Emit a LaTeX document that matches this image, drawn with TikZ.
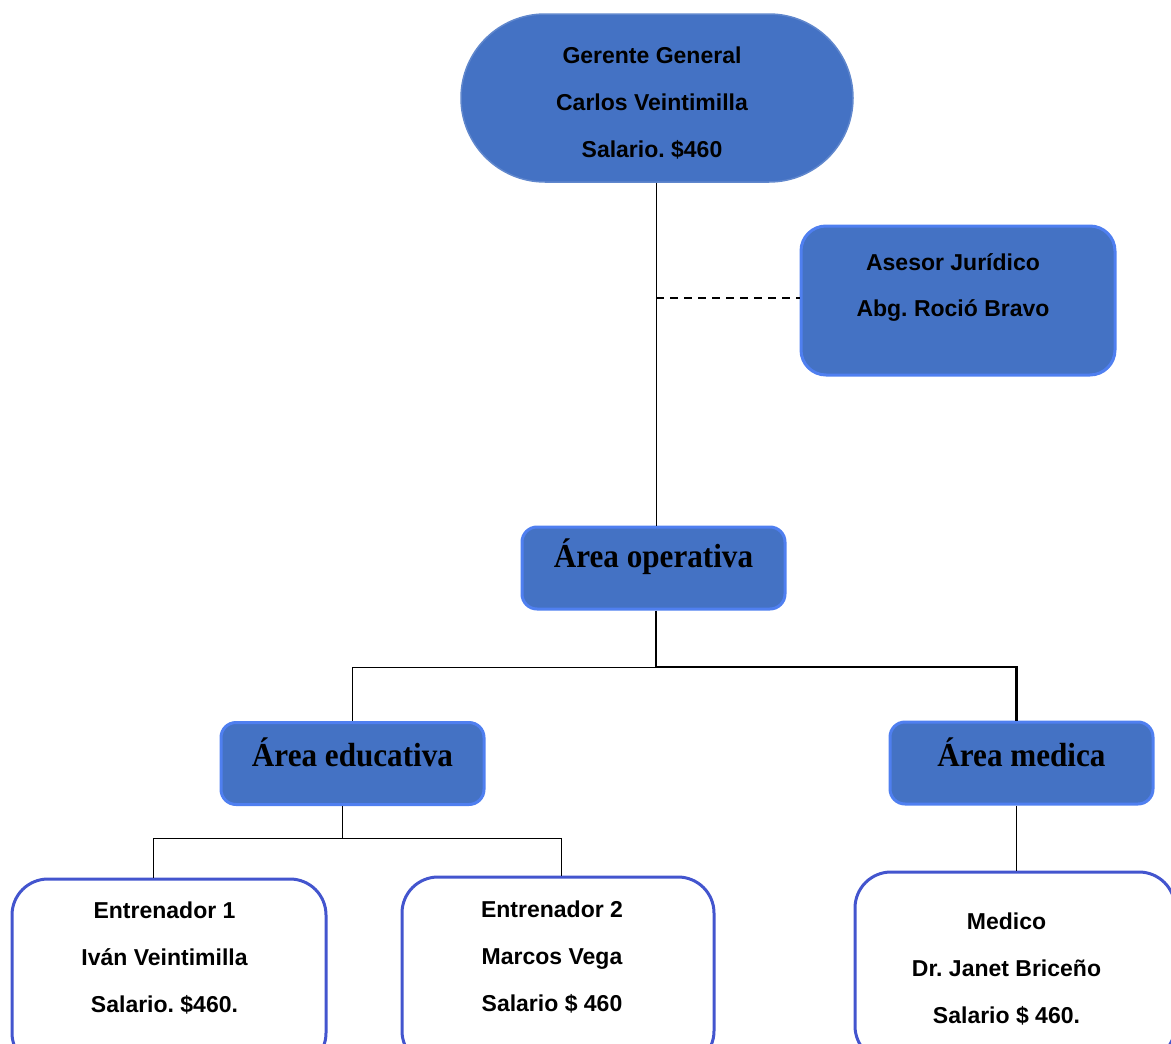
\documentclass[tikz,border=0pt]{standalone}
\usepackage{fontspec}
\setmainfont{Liberation Sans}
\newfontfamily\areafont[FakeStretch=0.93]{Liberation Serif}
\usepackage{tikz}
\frenchspacing
\definecolor{boxblue}{HTML}{4472C4}
\definecolor{boxedge}{HTML}{4F7FF0}
\definecolor{cardedge}{HTML}{4355CE}
\tikzstyle{bluebox}=[draw=boxedge, line width=3pt, fill=boxblue, inner sep=0pt]
\tikzstyle{whitebox}=[draw=cardedge, line width=3pt, fill=white, rounded corners=36pt, inner sep=0pt]
\tikzstyle{nametext}=[align=center, inner sep=0pt, font=\bfseries\fontsize{23}{47}\selectfont]
\tikzstyle{areatext}=[inner sep=0pt, font=\areafont\bfseries\fontsize{33.5}{36}\selectfont]
\tikzstyle{link}=[draw, line width=1pt]
\tikzstyle{mainlink}=[draw, line width=2.5pt]

\begin{document}
\begin{tikzpicture}[x=1pt, y=-1pt]
				\useasboundingbox (0,0) rectangle (1171,1044);
				\clip (0,0) rectangle (1171,1044);

				% First we draw the boxes
				\node[bluebox, draw=boxblue!85!white, line width=1.5pt, rounded corners=84pt, minimum width=392pt, minimum height=168pt] (gerente) at (657,98) {};
				\node[bluebox, rounded corners=25pt, minimum width=314pt, minimum height=149pt] (asesor) at (958,300.5) {};
				\foreach \pos/\name in {{(653.5,568)/operativa}, {(352.5,763.5)/educativa}, {(1021.5,763)/medica}}
				\node[bluebox, rounded corners=15pt, minimum width=263pt, minimum height=82pt] (\name) at \pos {};
				\foreach \pos/\name/\boxw in {{(169,974)/ent1/314}, {(558,972)/ent2/312}, {(1015,967)/medico/320}}
				\node[whitebox, minimum width=\boxw pt, minimum height=190pt] (\name) at \pos {};

				% Then the texts inside them
				\node[nametext] (gerenteTxt) at (652,103) {Gerente General\\Carlos Veintimilla\\Salario. \$460};
				\node[nametext] (asesorTxt) at (953,287.5) {Asesor Jurídico\\Abg. Roció Bravo};
				\node[areatext] (operativaTxt) at (653.5,557) {Área operativa};
				\node[areatext] (educativaTxt) at (352.5,752) {Área educativa};
				\node[areatext] (medicaTxt) at (1021.5,752) {Área medica};
				\node[nametext] (ent1Txt) at (164.5,958) {Entrenador 1\\Iván Veintimilla\\Salario. \$460.};
				\node[nametext] (ent2Txt) at (552,957) {Entrenador 2\\Marcos Vega\\Salario \$ 460};
				\node[nametext] (medicoTxt) at (1006.5,969) {Medico\\Dr. Janet Briceño\\Salario \$ 460.};

				% Connect the boxes
				\coordinate (opFork) at (656,667);
				\coordinate (eduDrop) at (342,838);
				\coordinate (eduL) at (153,838);
				\coordinate (eduR) at (561,838);
				\path[link] (gerente.south -| opFork) -- (operativa.north -| opFork);
				\path[link, line width=1.6pt, dash pattern=on 8pt off 6pt] (opFork |- 0,298) -- (asesor.west |- 0,298);
				\path[link] (opFork) -| (educativa.north);
				\path[mainlink] (operativa.south -| opFork) -- (opFork) -| ([xshift=-5pt]medica.north);
				\path[link] (educativa.south -| eduDrop) -- (eduDrop);
				\path[link] (eduL) -- (eduR);
				\path[link] (eduL) -- (eduL |- ent1.north);
				\path[link] (eduR) -- (eduR |- ent2.north);
				\path[link] ([xshift=-5pt]medica.south) -- ([xshift=-5pt]medica.south |- medico.north);
			\end{tikzpicture}
\end{document}
